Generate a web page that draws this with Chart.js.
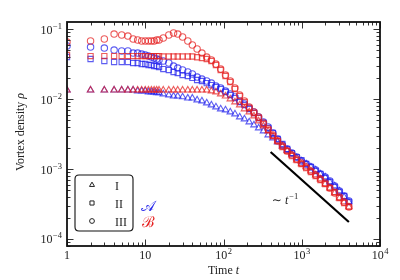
<!DOCTYPE html>
<html><head><meta charset="utf-8">
<script src="https://cdn.jsdelivr.net/npm/chart.js@4.4.1/dist/chart.umd.min.js"></script>
<style>html,body{margin:0;padding:0;background:#fff}#wrap{width:400px;height:280px}</style>
</head><body><div id="wrap"><canvas id="c" width="400" height="280"></canvas></div>
<script>
// ---- data ----
const TIMES = [1,2,3,4,5,6,7,8,9,10,11,12,13,14,15,17,20,23,26,30,35,40,46,53,61,70,80,92,106,122,140,161,185,213,245,281,324,372,428,492,566,651,748,861,990,1138,1309,1505,1731,1991,2289,2633,3028,3482,4004];

const A_I = [0.0134,0.0134,0.0134,0.0134,0.0134,0.0134,0.0134,0.0130,0.0130,0.0130,0.0126,0.0126,0.0126,0.0122,0.0122,
  0.0118,0.0114,0.0110,0.0110,0.0107,0.0103,0.0103,0.00968,0.00936,0.00877,0.00821,0.00769,0.00720,
  0.00697,0.00652,0.00611,0.00553,0.00518,0.00469,0.00425,0.00385,0.00349,0.00306,0.00277,0.00243,0.00213,0.00187,0.00164,0.00144,0.00130,
  0.00118,0.00107,0.000968,0.000848,0.000769,0.000652,0.000572,0.000485,0.000398,0.000338];
const A_II = [0.0398,0.0373,0.0349,0.0338,0.0338,0.0338,0.0327,0.0327,0.0316,0.0316,0.0306,0.0306,0.0296,0.0296,0.0287,
  0.0268,0.0260,0.0243,0.0235,0.0220,0.0213,0.0200,0.0187,0.0181,0.0169,0.0158,0.0148,0.0139,
  0.0126,0.0114,0.0103,0.00906,0.00821,0.00720,0.00631,0.00535,0.00454,0.00385,0.00327,0.00268,0.00228,0.00193,0.00169,0.00148,0.00134,
  0.00118,0.00107,0.000936,0.000848,0.000744,0.000652,0.000553,0.000469,0.000411,0.000338];
const A_III = [0.0572,0.0553,0.0535,0.0501,0.0485,0.0485,0.0454,0.0454,0.0439,0.0425,0.0411,0.0398,0.0385,0.0373,0.0361,
  0.0349,0.0327,0.0296,0.0277,0.0260,0.0243,0.0228,0.0206,0.0193,0.0181,0.0169,0.0153,0.0144,
  0.0130,0.0118,0.0107,0.00936,0.00848,0.00744,0.00652,0.00553,0.00469,0.00398,0.00327,0.00268,0.00220,0.00193,0.00169,0.00148,0.00130,
  0.00118,0.00107,0.000968,0.000848,0.000769,0.000674,0.000572,0.000485,0.000411,0.000349];

const B_I = [0.0134,0.0134,0.0134,0.0134,0.0134,0.0134,0.0134,0.0134,0.0134,0.0134,0.0134,0.0134,0.0134,0.0134,0.0134,
  0.0134,0.0134,0.0134,0.0134,0.0134,0.0134,0.0134,0.0134,0.0134,0.0134,0.0130,0.0126,0.0118,
  0.0110,0.0100,0.00906,0.00821,0.00720,0.00652,0.00572,0.00485,0.00411,0.00349,0.00296,0.00251,0.00213,0.00181,0.00158,0.00134,0.00118,
  0.00107,0.000936,0.000821,0.000720,0.000611,0.000535,0.000454,0.000385,0.000338,0.000287];
const B_II = [0.0425,0.0411,0.0411,0.0411,0.0411,0.0411,0.0411,0.0411,0.0411,0.0411,0.0411,0.0411,0.0411,0.0411,0.0411,
  0.0405,0.0405,0.0405,0.0405,0.0405,0.0405,0.0405,0.0395,0.0385,0.0373,0.0349,0.0306,0.0260,
  0.0213,0.0175,0.0139,0.0110,0.00906,0.00744,0.00631,0.00535,0.00439,0.00361,0.00296,0.00251,0.00206,0.00181,0.00153,0.00134,0.00118,
  0.00103,0.000906,0.000794,0.000697,0.000611,0.000535,0.000469,0.000385,0.000327,0.000287];
const B_III = [0.0652,0.0674,0.0720,0.0848,0.0821,0.0794,0.0720,0.0697,0.0674,0.0674,0.0674,0.0674,0.0674,0.0697,0.0697,
  0.0744,0.0821,0.0877,0.0848,0.0769,0.0674,0.0591,0.0518,0.0454,0.0398,0.0361,0.0316,0.0268,
  0.0220,0.0181,0.0144,0.0114,0.00936,0.00769,0.00652,0.00553,0.00454,0.00373,0.00306,0.00251,0.00213,0.00181,0.00158,0.00139,0.00122,
  0.00107,0.000936,0.000821,0.000720,0.000631,0.000535,0.000454,0.000398,0.000338,0.000287];

const SLOPE_T = [400, 4000];
const SLOPE_RHO = [1.75e-3, 1.75e-4];

const X_TICKS = [1, 10, 100, 1000, 10000];
const X_TICK_LABELS = [['1',''], ['10',''], ['10','2'], ['10','3'], ['10','4']];
const Y_TICKS = [1e-4, 1e-3, 1e-2, 1e-1];
const Y_TICK_LABELS = [['10','\u22124'], ['10','\u22123'], ['10','\u22122'], ['10','\u22121']];
const X_RANGE = [1, 1e4];
const Y_RANGE = [7.94e-5, 0.126];
const LEGEND_LABELS = ['I', 'II', 'III'];
const GROUP_LABELS = ['\uD835\uDC9C', '\u212C'];
const ANNOT_POS = [415, 3.2e-4];

// ---- styles ----
const SERIF = '"Liberation Serif","DejaVu Serif",serif';
const BLUE = 'rgba(30,30,235,0.72)';
const RED = 'rgba(228,30,30,0.72)';
const SHAPES = ['triangle', 'rect', 'circle'];
const RADII = [3.7, 3.7, 3.2];

function pts(ys) { return TIMES.map((t, i) => ({x: t, y: ys[i]})); }
function ds(ys, color, k) {
  return {data: pts(ys), showLine: false, pointStyle: SHAPES[k], pointRadius: RADII[k],
    pointBorderWidth: 1.1, borderColor: color, backgroundColor: 'rgba(0,0,0,0)',
    pointBackgroundColor: 'rgba(0,0,0,0)', pointBorderColor: color};
}

const datasets = [
  {data: SLOPE_T.map((t, i) => ({x: t, y: SLOPE_RHO[i]})), showLine: true, pointRadius: 0,
   borderColor: '#000', borderWidth: 2.2, fill: false},
  ds(B_I, RED, 0), ds(B_II, RED, 1), ds(B_III, RED, 2),
  ds(A_I, BLUE, 0), ds(A_II, BLUE, 1), ds(A_III, BLUE, 2)
];

function drawPow(ctx, base, exp, x, yb, align) {
  ctx.font = '12px ' + SERIF;
  const wb = ctx.measureText(base).width;
  ctx.font = '8.5px ' + SERIF;
  const we = exp ? ctx.measureText(exp).width + 0.5 : 0;
  const total = wb + we;
  const left = align === 'right' ? x - total : (align === 'center' ? x - total / 2 : x);
  ctx.textAlign = 'left'; ctx.textBaseline = 'alphabetic';
  ctx.font = '12px ' + SERIF; ctx.fillText(base, left, yb);
  if (exp) { ctx.font = '8.5px ' + SERIF; ctx.fillText(exp, left + wb + 0.5, yb - 5); }
}

const decor = {
  id: 'decor',
  afterDraw(chart) {
    const {ctx, chartArea: a, scales: {x, y}} = chart;
    ctx.save();
    // tick marks, inside, on all four sides
    ctx.strokeStyle = '#333'; ctx.lineWidth = 1;
    const tickX = (v, len) => {
      const p = Math.round(x.getPixelForValue(v)) + 0.5;
      ctx.beginPath(); ctx.moveTo(p, a.bottom); ctx.lineTo(p, a.bottom - len);
      ctx.moveTo(p, a.top); ctx.lineTo(p, a.top + len); ctx.stroke();
    };
    const tickY = (v, len) => {
      const p = Math.round(y.getPixelForValue(v)) + 0.5;
      ctx.beginPath(); ctx.moveTo(a.left, p); ctx.lineTo(a.left + len, p);
      ctx.moveTo(a.right, p); ctx.lineTo(a.right - len, p); ctx.stroke();
    };
    for (let k = 0; k < 4; k++) for (let m = 2; m <= 9; m++) tickX(m * Math.pow(10, k), 3.5);
    X_TICKS.forEach(v => tickX(v, 6.5));
    for (let k = -5; k <= -1; k++) for (let m = 2; m <= 9; m++) {
      const v = m * Math.pow(10, k);
      if (v > Y_RANGE[0] && v < Y_RANGE[1]) tickY(v, 3.5);
    }
    Y_TICKS.forEach(v => tickY(v, 6.5));
    // frame
    ctx.strokeStyle = '#111'; ctx.lineWidth = 1.8;
    ctx.strokeRect(a.left, a.top, a.right - a.left, a.bottom - a.top);
    // tick labels
    ctx.fillStyle = '#222';
    X_TICKS.forEach((v, i) => drawPow(ctx, X_TICK_LABELS[i][0], X_TICK_LABELS[i][1], x.getPixelForValue(v), a.bottom + 13, 'center'));
    Y_TICKS.forEach((v, i) => drawPow(ctx, Y_TICK_LABELS[i][0], Y_TICK_LABELS[i][1], a.left - 5, y.getPixelForValue(v) + 4.5, 'right'));
    // axis titles
    const t1 = 'Time ';
    ctx.font = '12px ' + SERIF; const w1 = ctx.measureText(t1).width;
    ctx.font = 'italic 12px ' + SERIF; const w2 = ctx.measureText('t').width;
    let cx = (a.left + a.right) / 2 - (w1 + w2) / 2;
    ctx.textAlign = 'left';
    ctx.font = '12px ' + SERIF; ctx.fillText(t1, cx, 274);
    ctx.font = 'italic 12px ' + SERIF; ctx.fillText('t', cx + w1, 274);
    ctx.save();
    ctx.translate(24, (a.top + a.bottom) / 2 - 2);
    ctx.rotate(-Math.PI / 2);
    const y1 = 'Vortex density ';
    ctx.font = '12px ' + SERIF; const wy1 = ctx.measureText(y1).width;
    ctx.font = 'italic 12px ' + SERIF; const wy2 = ctx.measureText('\u03C1').width;
    ctx.font = '12px ' + SERIF; ctx.fillText(y1, -(wy1 + wy2) / 2, 0);
    ctx.font = 'italic 12px ' + SERIF; ctx.fillText('\u03C1', -(wy1 + wy2) / 2 + wy1, 0);
    ctx.restore();
    // slope annotation
    const ax = x.getPixelForValue(ANNOT_POS[0]), ay = y.getPixelForValue(ANNOT_POS[1]);
    ctx.font = '12px ' + SERIF; ctx.fillText('\u223C', ax, ay);
    const ws = ctx.measureText('\u223C ').width;
    ctx.font = 'italic 12px ' + SERIF; ctx.fillText('t', ax + ws, ay);
    const wt = ctx.measureText('t').width;
    ctx.font = '8.5px ' + SERIF; ctx.fillText('\u22121', ax + ws + wt + 1, ay - 5);
    // legend box
    const lx = 75, ly = 175, lw = 58, lh = 56, r = 4;
    ctx.strokeStyle = '#111'; ctx.lineWidth = 1.1;
    ctx.beginPath();
    ctx.moveTo(lx + r, ly); ctx.lineTo(lx + lw - r, ly); ctx.quadraticCurveTo(lx + lw, ly, lx + lw, ly + r);
    ctx.lineTo(lx + lw, ly + lh - r); ctx.quadraticCurveTo(lx + lw, ly + lh, lx + lw - r, ly + lh);
    ctx.lineTo(lx + r, ly + lh); ctx.quadraticCurveTo(lx, ly + lh, lx, ly + lh - r);
    ctx.lineTo(lx, ly + r); ctx.quadraticCurveTo(lx, ly, lx + r, ly);
    ctx.fillStyle = '#fff'; ctx.fill(); ctx.stroke();
    ctx.lineWidth = 1;
    LEGEND_LABELS.forEach((lab, i) => {
      const yy = ly + 10 + i * 18;
      ctx.fillStyle = '#fff'; ctx.strokeStyle = '#222';
      Chart.helpers.drawPoint(ctx, {pointStyle: SHAPES[i], radius: RADII[i] - 0.8, borderWidth: 1}, lx + 17, yy);
      ctx.fillStyle = '#222';
      ctx.font = '12px ' + SERIF; ctx.textAlign = 'left';
      ctx.fillText(lab, lx + 40, yy + 4.5);
    });
    ctx.font = '15px ' + SERIF; ctx.textAlign = 'center';
    ctx.fillStyle = 'rgb(40,40,235)'; ctx.fillText(GROUP_LABELS[0], 148, 211);
    ctx.fillStyle = 'rgb(230,30,30)'; ctx.fillText(GROUP_LABELS[1], 148, 227);
    ctx.restore();
  }
};

new Chart(document.getElementById('c'), {
  type: 'scatter',
  data: {datasets},
  options: {
    responsive: false, animation: false, devicePixelRatio: 1,
    layout: {padding: {top: 22, right: 20, left: 0, bottom: 0}},
    plugins: {legend: {display: false}, tooltip: {enabled: false}},
    scales: {
      x: {type: 'logarithmic', min: X_RANGE[0], max: X_RANGE[1],
          grid: {display: false, drawTicks: false}, border: {display: false},
          ticks: {display: false}, afterFit: s => { s.height = 34; }},
      y: {type: 'logarithmic', min: Y_RANGE[0], max: Y_RANGE[1],
          grid: {display: false, drawTicks: false}, border: {display: false},
          ticks: {display: false}, afterFit: s => { s.width = 67; }}
    }
  },
  plugins: [decor]
});
</script></body></html>
